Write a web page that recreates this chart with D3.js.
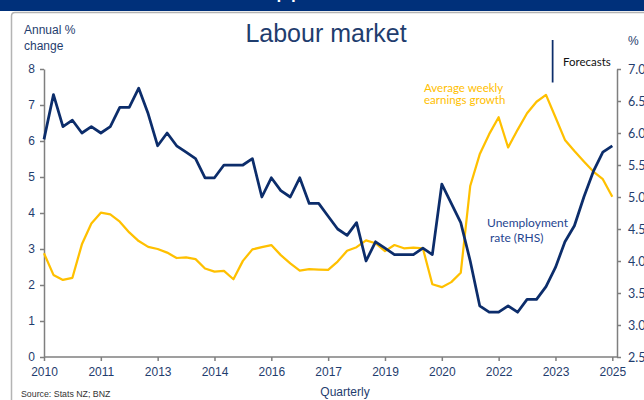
<!DOCTYPE html>
<html>
<head>
<meta charset="utf-8">
<script src="https://cdn.jsdelivr.net/npm/d3@7/dist/d3.min.js"></script>
<style>
  html, body { margin: 0; padding: 0; background: #fff; }
  svg { display: block; }
  .axis path, .axis line { stroke: #7f7f7f; stroke-width: 1.5; }
  .axis text { fill: #1f3d6e; }
</style>
</head>
<body>
<svg id="chart" width="644" height="400"></svg>
<script>
// Quarterly categories, 2010 Q1 to 2025 Q1
const quarters = [];
for (let yr = 2010; yr <= 2025; yr++) {
  for (let q = 1; q <= 4; q++) {
    if (yr === 2025 && q > 1) break;
    quarters.push(yr + " Q" + q);
  }
}

// Unemployment rate, % (right-hand axis)
const unemployment = [
  5.9, 6.6, 6.1, 6.2, 6.0, 6.1, 6.0, 6.1, 6.4, 6.4,
  6.7, 6.3, 5.8, 6.0, 5.8, 5.7, 5.6, 5.3, 5.3, 5.5,
  5.5, 5.5, 5.6, 5.0, 5.3, 5.1, 5.0, 5.3, 4.9, 4.9,
  4.7, 4.5, 4.4, 4.6, 4.0, 4.3, 4.2, 4.1, 4.1, 4.1,
  4.2, 4.1, 5.2, 4.9, 4.6, 4.0, 3.3, 3.2, 3.2, 3.3,
  3.2, 3.4, 3.4, 3.6, 3.9, 4.3, 4.55, 5.0, 5.4, 5.7,
  5.8
];

// Average weekly earnings growth, annual % change (left-hand axis)
const earnings = [
  2.88, 2.28, 2.14, 2.20, 3.13, 3.71, 4.01, 3.96, 3.76, 3.46,
  3.22, 3.06, 3.00, 2.90, 2.75, 2.77, 2.72, 2.46, 2.37, 2.39,
  2.16, 2.67, 2.99, 3.05, 3.11, 2.83, 2.60, 2.40, 2.44, 2.43,
  2.42, 2.65, 2.95, 3.05, 3.24, 3.16, 2.94, 3.11, 3.02, 3.04,
  3.02, 2.02, 1.94, 2.08, 2.34, 4.75, 5.63, 6.19, 6.66, 5.82,
  6.31, 6.77, 7.09, 7.28, 6.66, 6.03, 5.72, 5.43, 5.15, 4.94,
  4.45
];

// Axis ticks
const xTickIndex = [0, 6, 12, 18, 24, 30, 36, 42, 48, 54, 60];
const xTickLabels = ["2010", "2011", "2013", "2014", "2016", "2017", "2019", "2020", "2022", "2023", "2025"];
const leftTicks = [0, 1, 2, 3, 4, 5, 6, 7, 8];
const rightTicks = [2.5, 3.0, 3.5, 4.0, 4.5, 5.0, 5.5, 6.0, 6.5, 7.0];
const forecastFrom = 53.7;

const navy = "#0c2d6b";
const gold = "#ffc000";
const textBlue = "#1f3d6e";

const svg = d3.select("#chart");

// Header band and panel frame
svg.append("rect").attr("x", 0).attr("y", 0).attr("width", 644).attr("height", 11).attr("fill", "#00307a");
svg.append("text").attr("x", 276).attr("y", -3.5)
  .attr("font-family", "Liberation Sans, Arial, sans-serif").attr("font-size", 26)
  .attr("fill", "#fff").text("pp");
svg.append("path")
  .attr("d", "M11.5,400 V16 Q11.5,12.5 15,12.5 H644")
  .attr("fill", "none").attr("stroke", "#b4b4b4").attr("stroke-width", 1.5);

const x = d3.scaleLinear().domain([0, quarters.length - 1]).range([44, 612.3]);
const yL = d3.scaleLinear().domain([0, 8]).range([357, 69]);
const yR = d3.scaleLinear().domain([2.5, 7]).range([357, 69]);
const rightX = 617;

// Left axis
svg.append("g").attr("class", "axis").attr("transform", "translate(44,0)")
  .call(d3.axisLeft(yL).tickValues(leftTicks).tickSize(4).tickPadding(5).tickSizeOuter(0))
  .call(g => g.selectAll("text").attr("font-family", "Liberation Sans, Arial, sans-serif").attr("font-size", 12));

// Right axis
svg.append("g").attr("class", "axis").attr("transform", `translate(${rightX},0)`)
  .call(d3.axisRight(yR).tickValues(rightTicks).tickFormat(d3.format(".1f")).tickSize(4).tickPadding(7).tickSizeOuter(0))
  .call(g => g.selectAll("text").attr("font-family", "Lato, sans-serif").attr("font-size", 12.5));

// Bottom axis
svg.append("g").attr("class", "axis").attr("transform", "translate(0,357)")
  .call(d3.axisBottom(x).tickValues(xTickIndex).tickFormat((d, i) => xTickLabels[i]).tickSize(4).tickPadding(6.5).tickSizeOuter(0))
  .call(g => g.select(".domain").remove())
  .call(g => g.selectAll("text").attr("font-family", "Liberation Sans, Arial, sans-serif").attr("font-size", 12));
svg.append("line").attr("x1", 44).attr("x2", rightX).attr("y1", 357).attr("y2", 357)
  .attr("stroke", "#7f7f7f").attr("stroke-width", 1.5);

// Series lines
const earnLine = d3.line().x((d, i) => x(i)).y(d => yL(d));
const unempLine = d3.line().x((d, i) => x(i)).y(d => yR(d));

svg.append("path").datum(earnings).attr("d", earnLine)
  .attr("fill", "none").attr("stroke", gold).attr("stroke-width", 2.25).attr("stroke-linejoin", "round");
svg.append("path").datum(unemployment).attr("d", unempLine)
  .attr("fill", "none").attr("stroke", navy).attr("stroke-width", 2.75).attr("stroke-linejoin", "round");

// Forecast marker
svg.append("line").attr("x1", x(forecastFrom)).attr("x2", x(forecastFrom)).attr("y1", 40).attr("y2", 82.5)
  .attr("stroke", navy).attr("stroke-width", 1.75);
svg.append("text").attr("x", 563).attr("y", 66)
  .attr("font-family", "Lato, sans-serif").attr("font-size", 11.5).attr("fill", "#111").text("Forecasts");

// Titles and labels
svg.append("text").attr("x", 326).attr("y", 42).attr("text-anchor", "middle")
  .attr("font-family", "Liberation Sans, Arial, sans-serif").attr("font-size", 25).attr("fill", textBlue)
  .text("Labour market");
const unitL = svg.append("text").attr("font-family", "Liberation Sans, Arial, sans-serif")
  .attr("font-size", 12).attr("fill", textBlue);
unitL.append("tspan").attr("x", 24).attr("y", 34).text("Annual %");
unitL.append("tspan").attr("x", 24).attr("y", 50).text("change");
svg.append("text").attr("x", 628).attr("y", 45)
  .attr("font-family", "Liberation Sans, Arial, sans-serif").attr("font-size", 12).attr("fill", textBlue).text("%");

const earnLbl = svg.append("text").attr("font-family", "Lato, sans-serif").attr("font-size", 11.5).attr("fill", gold);
earnLbl.append("tspan").attr("x", 424).attr("y", 91.5).text("Average weekly");
earnLbl.append("tspan").attr("x", 424).attr("y", 104).text("earnings growth");

const unLbl = svg.append("text").attr("font-family", "Lato, sans-serif").attr("font-size", 12).attr("fill", "#1f4590");
unLbl.append("tspan").attr("x", 487).attr("y", 227).text("Unemployment");
unLbl.append("tspan").attr("x", 490).attr("y", 241.5).text("rate (RHS)");

svg.append("text").attr("x", 345).attr("y", 396).attr("text-anchor", "middle")
  .attr("font-family", "Liberation Sans, Arial, sans-serif").attr("font-size", 12).attr("fill", textBlue).text("Quarterly");
svg.append("text").attr("x", 21).attr("y", 397)
  .attr("font-family", "Liberation Sans, Arial, sans-serif").attr("font-size", 8.8).attr("fill", "#333").text("Source: Stats NZ; BNZ");
</script>
</body>
</html>
